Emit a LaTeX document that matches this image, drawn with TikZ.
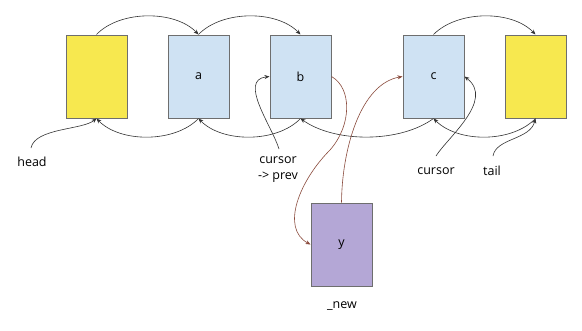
\documentclass[tikz,border=0pt]{standalone}
\usepackage{fontspec}
\setmainfont{Open Sans}
\usetikzlibrary{arrows.meta}
\definecolor{yel}{HTML}{F7E84F}
\definecolor{blu}{HTML}{CFE2F3}
\definecolor{pur}{HTML}{B4A7D6}
\definecolor{brd}{HTML}{6E6E6E}
\definecolor{brn}{HTML}{8A4A3C}
\begin{document}
\begin{tikzpicture}[x=1pt,y=-1pt,
  box/.style={draw=brd,line width=1pt,minimum width=61pt,minimum height=83pt,inner sep=0pt,font=\fontsize{12.5}{14}\selectfont},
  lbl/.style={font=\fontsize{12.5}{16}\selectfont,inner sep=1pt,align=center},
  link/.style={draw=black!80,line width=0.6pt,-{Stealth[length=5pt,width=4pt]}},
  blink/.style={draw=brn,line width=0.6pt,-{Stealth[length=5pt,width=4pt]}}]
\useasboundingbox[fill=white] (0,0) rectangle (582,330);
\node[box,fill=yel] (h) at (96.5,76.5) {};
\node[box,fill=blu] (a) at (198.5,76.5) {a};
\node[box,fill=blu] (b) at (300.5,76.5) {b};
\node[box,fill=blu] (c) at (433.5,76.5) {c};
\node[box,fill=yel] (t) at (535.5,76.5) {};
\node[box,fill=pur] (y) at (341.5,244.5) {y};
\node[lbl] (lhead) at (32,162) {head};
\node[lbl] (lcp) at (278,170) {cursor\\-> prev};
\node[lbl] (lcur) at (436,171) {cursor};
\node[lbl] (ltail) at (492,171) {tail};
\node[lbl] (lnew) at (342,306) {\_new};
\coordinate (headS) at (31,148);
\coordinate (cpS) at (279,149);
\coordinate (curS) at (436,156);
\coordinate (tailS) at (493,156);
% next links
\draw[link] (h.north) .. controls (120,10) and (175,10) .. (a.north);
\draw[link] (a.north) .. controls (222,10) and (277,10) .. (b.north);
\draw[link] (c.north) .. controls (458,10) and (512,10) .. (t.north);
% prev links
\draw[link] (a.south) .. controls (175,143) and (120,143) .. (h.south);
\draw[link] (b.south) .. controls (277,143) and (222,143) .. (a.south);
\draw[link] (c.south) .. controls (400,143) and (335,143) .. (b.south);
\draw[link] (t.south) .. controls (512,143) and (458,143) .. (c.south);
% labels
\draw[link] (headS) .. controls (35,128) and (82,130) .. (h.south);
\draw[link] (tailS) .. controls (496,138) and (530,140) .. (t.south);
\draw[link] (cpS) .. controls (272,126) and (238,80) .. (b.west);
\draw[link] (curS) .. controls (447,138) and (495,100) .. (c.east);
% new node
\draw[blink] (b.east) .. controls (352,88) and (352,125) .. (330,150) .. controls (300,180) and (280,228) .. (y.west);
\draw[blink] (y.north) .. controls (342,150) and (360,84) .. (c.west);
\end{tikzpicture}
\end{document}
